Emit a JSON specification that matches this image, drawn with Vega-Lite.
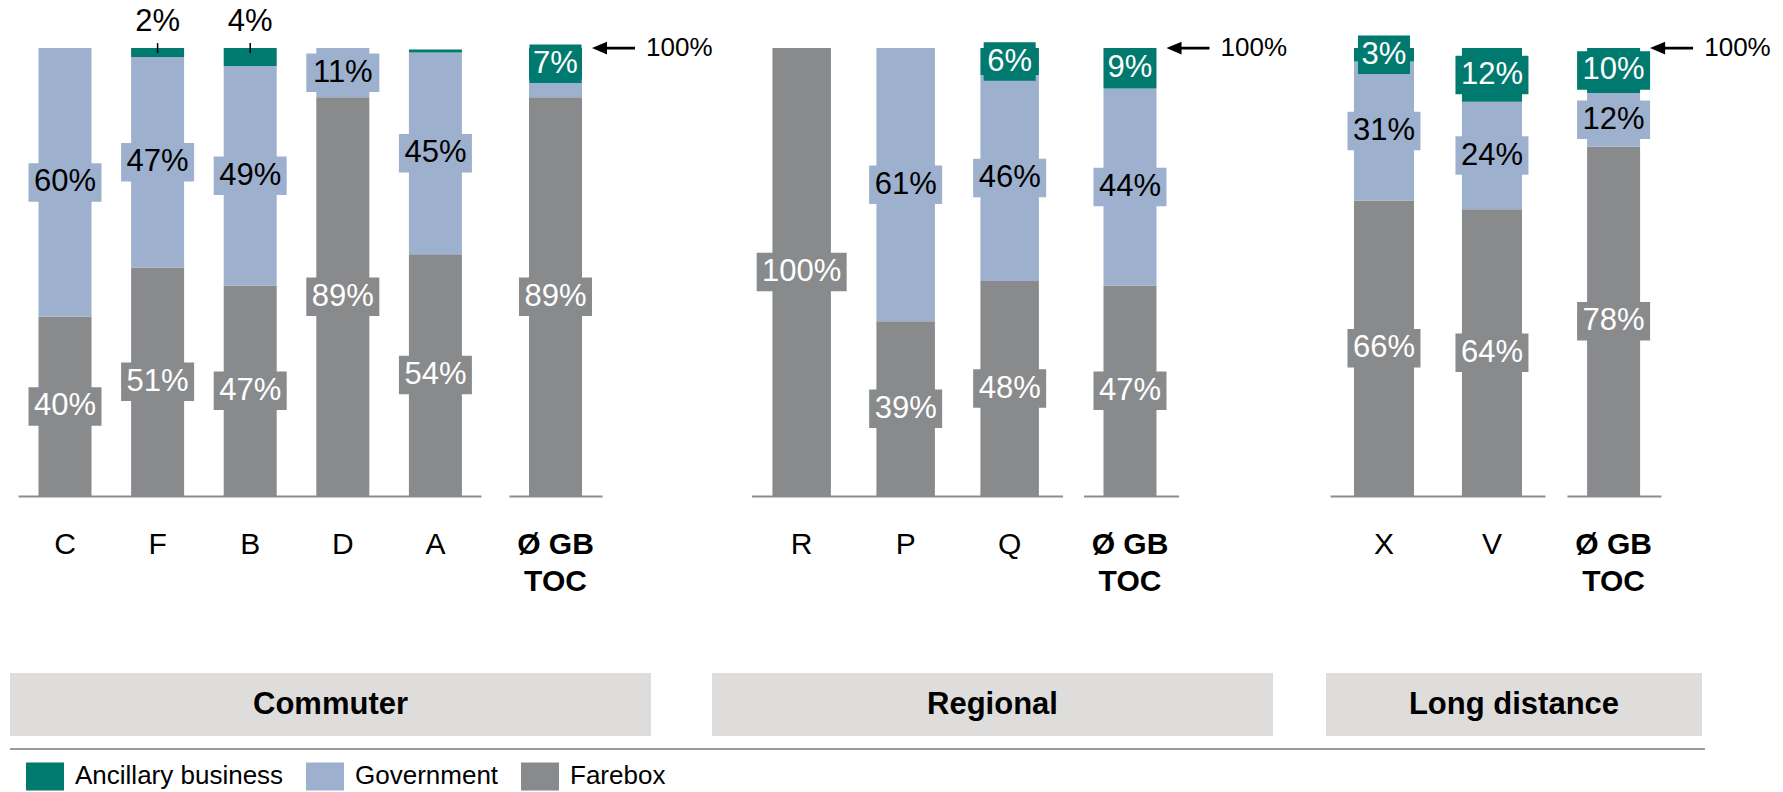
{
  "$schema": "https://vega.github.io/schema/vega-lite/v6.json",
  "padding": {"left": 9, "top": 0, "right": 0, "bottom": 0},
  "autosize": {"type": "pad"},
  "spacing": 77,
  "datasets": {
    "rev": [
      {"grp": "Commuter", "cat": "C", "src": "Farebox", "v": 0.40},
      {"grp": "Commuter", "cat": "C", "src": "Government", "v": 0.60},
      {"grp": "Commuter", "cat": "F", "src": "Farebox", "v": 0.51},
      {"grp": "Commuter", "cat": "F", "src": "Government", "v": 0.47},
      {"grp": "Commuter", "cat": "F", "src": "Ancillary business", "v": 0.02},
      {"grp": "Commuter", "cat": "B", "src": "Farebox", "v": 0.47},
      {"grp": "Commuter", "cat": "B", "src": "Government", "v": 0.49},
      {"grp": "Commuter", "cat": "B", "src": "Ancillary business", "v": 0.04},
      {"grp": "Commuter", "cat": "D", "src": "Farebox", "v": 0.89},
      {"grp": "Commuter", "cat": "D", "src": "Government", "v": 0.11},
      {"grp": "Commuter", "cat": "A", "src": "Farebox", "v": 0.54},
      {"grp": "Commuter", "cat": "A", "src": "Government", "v": 0.45},
      {"grp": "Commuter", "cat": "A", "src": "Ancillary business", "v": 0.007},
      {"grp": "Commuter", "cat": "Ø GB TOC", "src": "Farebox", "v": 0.89},
      {"grp": "Commuter", "cat": "Ø GB TOC", "src": "Government", "v": 0.04},
      {"grp": "Commuter", "cat": "Ø GB TOC", "src": "Ancillary business", "v": 0.07},
      {"grp": "Regional", "cat": "R", "src": "Farebox", "v": 1.00},
      {"grp": "Regional", "cat": "P", "src": "Farebox", "v": 0.39},
      {"grp": "Regional", "cat": "P", "src": "Government", "v": 0.61},
      {"grp": "Regional", "cat": "Q", "src": "Farebox", "v": 0.48},
      {"grp": "Regional", "cat": "Q", "src": "Government", "v": 0.46},
      {"grp": "Regional", "cat": "Q", "src": "Ancillary business", "v": 0.06},
      {"grp": "Regional", "cat": "Ø GB TOC", "src": "Farebox", "v": 0.47},
      {"grp": "Regional", "cat": "Ø GB TOC", "src": "Government", "v": 0.44},
      {"grp": "Regional", "cat": "Ø GB TOC", "src": "Ancillary business", "v": 0.09},
      {"grp": "Long distance", "cat": "X", "src": "Farebox", "v": 0.66},
      {"grp": "Long distance", "cat": "X", "src": "Government", "v": 0.31},
      {"grp": "Long distance", "cat": "X", "src": "Ancillary business", "v": 0.03},
      {"grp": "Long distance", "cat": "V", "src": "Farebox", "v": 0.64},
      {"grp": "Long distance", "cat": "V", "src": "Government", "v": 0.24},
      {"grp": "Long distance", "cat": "V", "src": "Ancillary business", "v": 0.12},
      {"grp": "Long distance", "cat": "Ø GB TOC", "src": "Farebox", "v": 0.78},
      {"grp": "Long distance", "cat": "Ø GB TOC", "src": "Government", "v": 0.12},
      {"grp": "Long distance", "cat": "Ø GB TOC", "src": "Ancillary business", "v": 0.10}
    ],
    "groups": [
      {"grp": "Commuter"},
      {"grp": "Regional"},
      {"grp": "Long distance"}
    ]
  },
  "vconcat": [
    {
      "hconcat": [
        {
          "hconcat": [
            {
              "width": 471, "height": 496,
              "data": {"name": "rev"},
              "transform": [
                {"filter": "datum.grp == 'Commuter' && datum.cat != 'Ø GB TOC'"},
                {"window": [{"op": "row_number", "as": "k"}], "groupby": ["cat"]}
              ],
              "encoding": {
                "x": {"field": "cat", "type": "nominal", "sort": null, "title": null,
                  "scale": {"paddingInner": 0.4277, "paddingOuter": 0.257, "align": 0.599},
                  "axis": {"labelAngle": 0, "labelFontSize": 30, "labelColor": "#000000", "labelPadding": 33, "ticks": false, "domainColor": "#8c8c8c", "domainWidth": 2, "domainDash": [0, 8, 463, 1000]}}
              },
              "layer": [
                {"mark": {"type": "bar"},
                 "encoding": {
                   "y": {"field": "v", "type": "quantitative", "stack": "zero", "scale": {"domain": [0, 1.1074], "nice": false}, "axis": null},
                   "color": {"field": "src", "type": "nominal", "scale": {"domain": ["Ancillary business", "Government", "Farebox"], "range": ["#00796e", "#9db0ce", "#898a8c"]},
                     "legend": {"title": null, "orient": "none", "legendX": 16, "legendY": 757, "direction": "horizontal", "symbolType": "M-1,-0.737H1V0.737H-1Z", "symbolSize": 1444, "symbolStrokeWidth": 0, "symbolOpacity": 1, "labelFontSize": 26, "labelFont": "Liberation Sans", "labelColor": "#000000", "labelOffset": 11, "columnPadding": 22, "padding": 0, "labelLimit": 400}},
                   "order": {"field": "k", "type": "quantitative"}}},
                {"mark": {"type": "tick", "thickness": 38.5, "orient": "horizontal"},
                 "encoding": {
                   "y": {"field": "v", "type": "quantitative", "stack": "zero", "bandPosition": 0.5, "scale": {"domain": [0, 1.1074], "nice": false}, "axis": null},
                   "color": {"field": "src", "type": "nominal", "scale": {"domain": ["Ancillary business", "Government", "Farebox"], "range": ["#00796e", "#9db0ce", "#898a8c"]}, "legend": null},
                   "order": {"field": "k", "type": "quantitative"},
                   "size": {"condition": [{"test": "datum.v < 0.095", "value": 52}, {"test": "datum.v > 0.995", "value": 90}], "value": 73},
                   "opacity": {"condition": {"test": "datum.src == 'Ancillary business'", "value": 0}, "value": 1}}},
                {"mark": {"type": "text", "fontSize": 31, "baseline": "middle", "align": "center"},
                 "encoding": {
                   "y": {"field": "v", "type": "quantitative", "stack": "zero", "bandPosition": 0.5, "scale": {"domain": [0, 1.1074], "nice": false}, "axis": null},
                   "detail": {"field": "src", "type": "nominal"},
                   "order": {"field": "k", "type": "quantitative"},
                   "text": {"field": "v", "type": "quantitative", "format": ".0%"},
                   "color": {"condition": {"test": "datum.src == 'Government'", "value": "#000000"}, "value": "#ffffff"},
                   "opacity": {"condition": {"test": "datum.src == 'Ancillary business'", "value": 0}, "value": 1}}},
                {"transform": [{"filter": "datum.src == 'Ancillary business' && datum.v >= 0.015"}],
                 "mark": {"type": "text", "fontSize": 31, "baseline": "middle", "align": "center", "dy": -26, "color": "#000000"},
                 "encoding": {
                   "y": {"datum": 1, "type": "quantitative", "scale": {"domain": [0, 1.1074], "nice": false}, "axis": null},
                   "text": {"field": "v", "type": "quantitative", "format": ".0%"}}},
                {"transform": [{"filter": "datum.src == 'Ancillary business' && datum.v >= 0.015"}],
                 "mark": {"type": "tick", "orient": "vertical", "thickness": 1.5, "size": 10, "color": "#000000", "opacity": 1},
                 "encoding": {
                   "y": {"datum": 1, "type": "quantitative", "scale": {"domain": [0, 1.1074], "nice": false}, "axis": null}}}
              ]
            },
            {
              "width": 93, "height": 496,
              "data": {"name": "rev"},
              "transform": [
                {"filter": "datum.grp == 'Commuter' && datum.cat == 'Ø GB TOC'"},
                {"window": [{"op": "row_number", "as": "k"}], "groupby": ["cat"]}
              ],
              "encoding": {
                "x": {"field": "cat", "type": "nominal", "sort": null, "title": null,
                  "scale": {"paddingInner": 0.4277, "paddingOuter": 0.216, "align": 0.5},
                  "axis": {"labelAngle": 0, "labelFontSize": 30, "labelFontWeight": "bold", "labelExpr": "['Ø GB', 'TOC']", "labelLineHeight": 37, "labelColor": "#000000", "labelPadding": 33, "ticks": false, "domainColor": "#8c8c8c", "domainWidth": 2}}
              },
              "layer": [
                {"mark": {"type": "bar"},
                 "encoding": {
                   "y": {"field": "v", "type": "quantitative", "stack": "zero", "scale": {"domain": [0, 1.1074], "nice": false}, "axis": null},
                   "color": {"field": "src", "type": "nominal", "scale": {"domain": ["Ancillary business", "Government", "Farebox"], "range": ["#00796e", "#9db0ce", "#898a8c"]},
                     "legend": {"title": null, "orient": "none", "legendX": 16, "legendY": 757, "direction": "horizontal", "symbolType": "M-1,-0.737H1V0.737H-1Z", "symbolSize": 1444, "symbolStrokeWidth": 0, "symbolOpacity": 1, "labelFontSize": 26, "labelFont": "Liberation Sans", "labelColor": "#000000", "labelOffset": 11, "columnPadding": 22, "padding": 0, "labelLimit": 400}},
                   "order": {"field": "k", "type": "quantitative"}}},
                {"mark": {"type": "tick", "thickness": 38.5, "orient": "horizontal"},
                 "encoding": {
                   "y": {"field": "v", "type": "quantitative", "stack": "zero", "bandPosition": 0.5, "scale": {"domain": [0, 1.1074], "nice": false}, "axis": null},
                   "color": {"field": "src", "type": "nominal", "scale": {"domain": ["Ancillary business", "Government", "Farebox"], "range": ["#00796e", "#9db0ce", "#898a8c"]}, "legend": null},
                   "order": {"field": "k", "type": "quantitative"},
                   "size": {"condition": [{"test": "datum.v < 0.095", "value": 52}, {"test": "datum.v > 0.995", "value": 90}], "value": 73},
                   "opacity": {"condition": {"test": "datum.src == 'Government'", "value": 0}, "value": 1}}},
                {"mark": {"type": "text", "fontSize": 31, "baseline": "middle", "align": "center"},
                 "encoding": {
                   "y": {"field": "v", "type": "quantitative", "stack": "zero", "bandPosition": 0.5, "scale": {"domain": [0, 1.1074], "nice": false}, "axis": null},
                   "detail": {"field": "src", "type": "nominal"},
                   "order": {"field": "k", "type": "quantitative"},
                   "text": {"field": "v", "type": "quantitative", "format": ".0%"},
                   "color": {"condition": {"test": "datum.src == 'Government'", "value": "#000000"}, "value": "#ffffff"},
                   "opacity": {"condition": {"test": "datum.src == 'Government'", "value": 0}, "value": 1}}},
                {"transform": [{"filter": "datum.src == 'Farebox'"}],
                 "mark": {"type": "point", "shape": "M-1,0L-0.3,-0.3L-0.3,-0.06L1,-0.06L1,0.06L-0.3,0.06L-0.3,0.3Z", "size": 1849, "filled": true, "color": "#000000", "opacity": 1, "strokeWidth": 0},
                 "encoding": {
                   "x": {"field": "cat", "type": "nominal", "sort": null, "bandPosition": 1.594, "title": null,
                     "axis": {"labelAngle": 0, "labelFontSize": 30, "labelFontWeight": "bold", "labelExpr": "['Ø GB', 'TOC']", "labelLineHeight": 37, "labelColor": "#000000", "labelPadding": 33, "ticks": false, "domainColor": "#8c8c8c", "domainWidth": 2}},
                   "y": {"datum": 1, "type": "quantitative", "scale": {"domain": [0, 1.1074], "nice": false}, "axis": null}}},
                {"transform": [{"filter": "datum.src == 'Farebox'"}],
                 "mark": {"type": "text", "fontSize": 26, "align": "left", "baseline": "middle", "color": "#000000"},
                 "encoding": {
                   "x": {"field": "cat", "type": "nominal", "sort": null, "bandPosition": 2.21, "title": null,
                     "axis": {"labelAngle": 0, "labelFontSize": 30, "labelFontWeight": "bold", "labelExpr": "['Ø GB', 'TOC']", "labelLineHeight": 37, "labelColor": "#000000", "labelPadding": 33, "ticks": false, "domainColor": "#8c8c8c", "domainWidth": 2}},
                   "y": {"datum": 1, "type": "quantitative", "scale": {"domain": [0, 1.1074], "nice": false}, "axis": null},
                   "text": {"value": "100%"}}}
              ]
            }
          ],
          "spacing": 28
        },
        {
          "hconcat": [
            {
              "hconcat": [
                {
                  "width": 311, "height": 496,
                  "data": {"name": "rev"},
                  "transform": [
                    {"filter": "datum.grp == 'Regional' && datum.cat != 'Ø GB TOC'"},
                    {"window": [{"op": "row_number", "as": "k"}], "groupby": ["cat"]}
                  ],
                  "encoding": {
                    "x": {"field": "cat", "type": "nominal", "sort": null, "title": null,
                      "scale": {"paddingInner": 0.4375, "paddingOuter": 0.214, "align": 0.47},
                      "axis": {"labelAngle": 0, "labelFontSize": 30, "labelColor": "#000000", "labelPadding": 33, "ticks": false, "domainColor": "#8c8c8c", "domainWidth": 2}}
                  },
                  "layer": [
                    {"mark": {"type": "bar"},
                     "encoding": {
                       "y": {"field": "v", "type": "quantitative", "stack": "zero", "scale": {"domain": [0, 1.1074], "nice": false}, "axis": null},
                       "color": {"field": "src", "type": "nominal", "scale": {"domain": ["Ancillary business", "Government", "Farebox"], "range": ["#00796e", "#9db0ce", "#898a8c"]},
                         "legend": {"title": null, "orient": "none", "legendX": 16, "legendY": 757, "direction": "horizontal", "symbolType": "M-1,-0.737H1V0.737H-1Z", "symbolSize": 1444, "symbolStrokeWidth": 0, "symbolOpacity": 1, "labelFontSize": 26, "labelFont": "Liberation Sans", "labelColor": "#000000", "labelOffset": 11, "columnPadding": 22, "padding": 0, "labelLimit": 400}},
                       "order": {"field": "k", "type": "quantitative"}}},
                    {"mark": {"type": "tick", "thickness": 38.5, "orient": "horizontal", "opacity": 1},
                     "encoding": {
                       "y": {"field": "v", "type": "quantitative", "stack": "zero", "bandPosition": 0.5, "scale": {"domain": [0, 1.1074], "nice": false}, "axis": null},
                       "color": {"field": "src", "type": "nominal", "scale": {"domain": ["Ancillary business", "Government", "Farebox"], "range": ["#00796e", "#9db0ce", "#898a8c"]}, "legend": null},
                       "order": {"field": "k", "type": "quantitative"},
                       "size": {"condition": [{"test": "datum.v < 0.095", "value": 52}, {"test": "datum.v > 0.995", "value": 90}], "value": 73}}},
                    {"mark": {"type": "text", "fontSize": 31, "baseline": "middle", "align": "center"},
                     "encoding": {
                       "y": {"field": "v", "type": "quantitative", "stack": "zero", "bandPosition": 0.5, "scale": {"domain": [0, 1.1074], "nice": false}, "axis": null},
                       "detail": {"field": "src", "type": "nominal"},
                       "order": {"field": "k", "type": "quantitative"},
                       "text": {"field": "v", "type": "quantitative", "format": ".0%"},
                       "color": {"condition": {"test": "datum.src == 'Government'", "value": "#000000"}, "value": "#ffffff"}}}
                  ]
                },
                {
                  "width": 95, "height": 496,
                  "data": {"name": "rev"},
                  "transform": [
                    {"filter": "datum.grp == 'Regional' && datum.cat == 'Ø GB TOC'"},
                    {"window": [{"op": "row_number", "as": "k"}], "groupby": ["cat"]}
                  ],
                  "encoding": {
                    "x": {"field": "cat", "type": "nominal", "sort": null, "title": null,
                      "scale": {"paddingInner": 0.4277, "paddingOuter": 0.2268, "align": 0.476},
                      "axis": {"labelAngle": 0, "labelFontSize": 30, "labelFontWeight": "bold", "labelExpr": "['Ø GB', 'TOC']", "labelLineHeight": 37, "labelColor": "#000000", "labelPadding": 33, "ticks": false, "domainColor": "#8c8c8c", "domainWidth": 2}}
                  },
                  "layer": [
                    {"mark": {"type": "bar"},
                     "encoding": {
                       "y": {"field": "v", "type": "quantitative", "stack": "zero", "scale": {"domain": [0, 1.1074], "nice": false}, "axis": null},
                       "color": {"field": "src", "type": "nominal", "scale": {"domain": ["Ancillary business", "Government", "Farebox"], "range": ["#00796e", "#9db0ce", "#898a8c"]},
                         "legend": {"title": null, "orient": "none", "legendX": 16, "legendY": 757, "direction": "horizontal", "symbolType": "M-1,-0.737H1V0.737H-1Z", "symbolSize": 1444, "symbolStrokeWidth": 0, "symbolOpacity": 1, "labelFontSize": 26, "labelFont": "Liberation Sans", "labelColor": "#000000", "labelOffset": 11, "columnPadding": 22, "padding": 0, "labelLimit": 400}},
                       "order": {"field": "k", "type": "quantitative"}}},
                    {"mark": {"type": "tick", "thickness": 38.5, "orient": "horizontal", "opacity": 1},
                     "encoding": {
                       "y": {"field": "v", "type": "quantitative", "stack": "zero", "bandPosition": 0.5, "scale": {"domain": [0, 1.1074], "nice": false}, "axis": null},
                       "color": {"field": "src", "type": "nominal", "scale": {"domain": ["Ancillary business", "Government", "Farebox"], "range": ["#00796e", "#9db0ce", "#898a8c"]}, "legend": null},
                       "order": {"field": "k", "type": "quantitative"},
                       "size": {"condition": [{"test": "datum.v < 0.095", "value": 52}, {"test": "datum.v > 0.995", "value": 90}], "value": 73}}},
                    {"mark": {"type": "text", "fontSize": 31, "baseline": "middle", "align": "center"},
                     "encoding": {
                       "y": {"field": "v", "type": "quantitative", "stack": "zero", "bandPosition": 0.5, "scale": {"domain": [0, 1.1074], "nice": false}, "axis": null},
                       "detail": {"field": "src", "type": "nominal"},
                       "order": {"field": "k", "type": "quantitative"},
                       "text": {"field": "v", "type": "quantitative", "format": ".0%"},
                       "color": {"condition": {"test": "datum.src == 'Government'", "value": "#000000"}, "value": "#ffffff"}}},
                    {"transform": [{"filter": "datum.src == 'Farebox'"}],
                     "mark": {"type": "point", "shape": "M-1,0L-0.3,-0.3L-0.3,-0.06L1,-0.06L1,0.06L-0.3,0.06L-0.3,0.3Z", "size": 1849, "filled": true, "color": "#000000", "opacity": 1, "strokeWidth": 0},
                     "encoding": {
                       "x": {"field": "cat", "type": "nominal", "sort": null, "bandPosition": 1.594, "title": null,
                         "axis": {"labelAngle": 0, "labelFontSize": 30, "labelFontWeight": "bold", "labelExpr": "['Ø GB', 'TOC']", "labelLineHeight": 37, "labelColor": "#000000", "labelPadding": 33, "ticks": false, "domainColor": "#8c8c8c", "domainWidth": 2}},
                       "y": {"datum": 1, "type": "quantitative", "scale": {"domain": [0, 1.1074], "nice": false}, "axis": null}}},
                    {"transform": [{"filter": "datum.src == 'Farebox'"}],
                     "mark": {"type": "text", "fontSize": 26, "align": "left", "baseline": "middle", "color": "#000000"},
                     "encoding": {
                       "x": {"field": "cat", "type": "nominal", "sort": null, "bandPosition": 2.21, "title": null,
                         "axis": {"labelAngle": 0, "labelFontSize": 30, "labelFontWeight": "bold", "labelExpr": "['Ø GB', 'TOC']", "labelLineHeight": 37, "labelColor": "#000000", "labelPadding": 33, "ticks": false, "domainColor": "#8c8c8c", "domainWidth": 2}},
                       "y": {"datum": 1, "type": "quantitative", "scale": {"domain": [0, 1.1074], "nice": false}, "axis": null},
                       "text": {"value": "100%"}}}
                  ]
                }
              ],
              "spacing": 21
            },
            {
              "hconcat": [
                {
                  "width": 215, "height": 496,
                  "data": {"name": "rev"},
                  "transform": [
                    {"filter": "datum.grp == 'Long distance' && datum.cat != 'Ø GB TOC'"},
                    {"window": [{"op": "row_number", "as": "k"}], "groupby": ["cat"]}
                  ],
                  "encoding": {
                    "x": {"field": "cat", "type": "nominal", "sort": null, "title": null,
                      "scale": {"paddingInner": 0.444, "paddingOuter": 0.2176, "align": 0.51},
                      "axis": {"labelAngle": 0, "labelFontSize": 30, "labelColor": "#000000", "labelPadding": 33, "ticks": false, "domainColor": "#8c8c8c", "domainWidth": 2}}
                  },
                  "layer": [
                    {"mark": {"type": "bar"},
                     "encoding": {
                       "y": {"field": "v", "type": "quantitative", "stack": "zero", "scale": {"domain": [0, 1.1074], "nice": false}, "axis": null},
                       "color": {"field": "src", "type": "nominal", "scale": {"domain": ["Ancillary business", "Government", "Farebox"], "range": ["#00796e", "#9db0ce", "#898a8c"]},
                         "legend": {"title": null, "orient": "none", "legendX": 16, "legendY": 757, "direction": "horizontal", "symbolType": "M-1,-0.737H1V0.737H-1Z", "symbolSize": 1444, "symbolStrokeWidth": 0, "symbolOpacity": 1, "labelFontSize": 26, "labelFont": "Liberation Sans", "labelColor": "#000000", "labelOffset": 11, "columnPadding": 22, "padding": 0, "labelLimit": 400}},
                       "order": {"field": "k", "type": "quantitative"}}},
                    {"mark": {"type": "tick", "thickness": 38.5, "orient": "horizontal", "opacity": 1},
                     "encoding": {
                       "y": {"field": "v", "type": "quantitative", "stack": "zero", "bandPosition": 0.5, "scale": {"domain": [0, 1.1074], "nice": false}, "axis": null},
                       "color": {"field": "src", "type": "nominal", "scale": {"domain": ["Ancillary business", "Government", "Farebox"], "range": ["#00796e", "#9db0ce", "#898a8c"]}, "legend": null},
                       "order": {"field": "k", "type": "quantitative"},
                       "size": {"condition": [{"test": "datum.v < 0.095", "value": 52}, {"test": "datum.v > 0.995", "value": 90}], "value": 73}}},
                    {"mark": {"type": "text", "fontSize": 31, "baseline": "middle", "align": "center"},
                     "encoding": {
                       "y": {"field": "v", "type": "quantitative", "stack": "zero", "bandPosition": 0.5, "scale": {"domain": [0, 1.1074], "nice": false}, "axis": null},
                       "detail": {"field": "src", "type": "nominal"},
                       "order": {"field": "k", "type": "quantitative"},
                       "text": {"field": "v", "type": "quantitative", "format": ".0%"},
                       "color": {"condition": {"test": "datum.src == 'Government'", "value": "#000000"}, "value": "#ffffff"}}}
                  ]
                },
                {
                  "width": 94, "height": 496,
                  "data": {"name": "rev"},
                  "transform": [
                    {"filter": "datum.grp == 'Long distance' && datum.cat == 'Ø GB TOC'"},
                    {"window": [{"op": "row_number", "as": "k"}], "groupby": ["cat"]}
                  ],
                  "encoding": {
                    "x": {"field": "cat", "type": "nominal", "sort": null, "title": null,
                      "scale": {"paddingInner": 0.4277, "paddingOuter": 0.2214, "align": 0.49},
                      "axis": {"labelAngle": 0, "labelFontSize": 30, "labelFontWeight": "bold", "labelExpr": "['Ø GB', 'TOC']", "labelLineHeight": 37, "labelColor": "#000000", "labelPadding": 33, "ticks": false, "domainColor": "#8c8c8c", "domainWidth": 2}}
                  },
                  "layer": [
                    {"mark": {"type": "bar"},
                     "encoding": {
                       "y": {"field": "v", "type": "quantitative", "stack": "zero", "scale": {"domain": [0, 1.1074], "nice": false}, "axis": null},
                       "color": {"field": "src", "type": "nominal", "scale": {"domain": ["Ancillary business", "Government", "Farebox"], "range": ["#00796e", "#9db0ce", "#898a8c"]},
                         "legend": {"title": null, "orient": "none", "legendX": 16, "legendY": 757, "direction": "horizontal", "symbolType": "M-1,-0.737H1V0.737H-1Z", "symbolSize": 1444, "symbolStrokeWidth": 0, "symbolOpacity": 1, "labelFontSize": 26, "labelFont": "Liberation Sans", "labelColor": "#000000", "labelOffset": 11, "columnPadding": 22, "padding": 0, "labelLimit": 400}},
                       "order": {"field": "k", "type": "quantitative"}}},
                    {"mark": {"type": "tick", "thickness": 38.5, "orient": "horizontal", "opacity": 1},
                     "encoding": {
                       "y": {"field": "v", "type": "quantitative", "stack": "zero", "bandPosition": 0.5, "scale": {"domain": [0, 1.1074], "nice": false}, "axis": null},
                       "color": {"field": "src", "type": "nominal", "scale": {"domain": ["Ancillary business", "Government", "Farebox"], "range": ["#00796e", "#9db0ce", "#898a8c"]}, "legend": null},
                       "order": {"field": "k", "type": "quantitative"},
                       "size": {"condition": [{"test": "datum.v < 0.095", "value": 52}, {"test": "datum.v > 0.995", "value": 90}], "value": 73}}},
                    {"mark": {"type": "text", "fontSize": 31, "baseline": "middle", "align": "center"},
                     "encoding": {
                       "y": {"field": "v", "type": "quantitative", "stack": "zero", "bandPosition": 0.5, "scale": {"domain": [0, 1.1074], "nice": false}, "axis": null},
                       "detail": {"field": "src", "type": "nominal"},
                       "order": {"field": "k", "type": "quantitative"},
                       "text": {"field": "v", "type": "quantitative", "format": ".0%"},
                       "color": {"condition": {"test": "datum.src == 'Government'", "value": "#000000"}, "value": "#ffffff"}}},
                    {"transform": [{"filter": "datum.src == 'Farebox'"}],
                     "mark": {"type": "point", "shape": "M-1,0L-0.3,-0.3L-0.3,-0.06L1,-0.06L1,0.06L-0.3,0.06L-0.3,0.3Z", "size": 1849, "filled": true, "color": "#000000", "opacity": 1, "strokeWidth": 0},
                     "encoding": {
                       "x": {"field": "cat", "type": "nominal", "sort": null, "bandPosition": 1.594, "title": null,
                         "axis": {"labelAngle": 0, "labelFontSize": 30, "labelFontWeight": "bold", "labelExpr": "['Ø GB', 'TOC']", "labelLineHeight": 37, "labelColor": "#000000", "labelPadding": 33, "ticks": false, "domainColor": "#8c8c8c", "domainWidth": 2}},
                       "y": {"datum": 1, "type": "quantitative", "scale": {"domain": [0, 1.1074], "nice": false}, "axis": null}}},
                    {"transform": [{"filter": "datum.src == 'Farebox'"}],
                     "mark": {"type": "text", "fontSize": 26, "align": "left", "baseline": "middle", "color": "#000000"},
                     "encoding": {
                       "x": {"field": "cat", "type": "nominal", "sort": null, "bandPosition": 2.21, "title": null,
                         "axis": {"labelAngle": 0, "labelFontSize": 30, "labelFontWeight": "bold", "labelExpr": "['Ø GB', 'TOC']", "labelLineHeight": 37, "labelColor": "#000000", "labelPadding": 33, "ticks": false, "domainColor": "#8c8c8c", "domainWidth": 2}},
                       "y": {"datum": 1, "type": "quantitative", "scale": {"domain": [0, 1.1074], "nice": false}, "axis": null},
                       "text": {"value": "100%"}}}
                  ]
                }
              ],
              "spacing": 22
            }
          ],
          "spacing": 42.5
        }
      ],
      "spacing": 38.5
    },
    {
      "vconcat": [
        {
          "hconcat": [
            {
              "width": 641, "height": 63,
              "view": {"fill": "#dedddb", "stroke": null},
              "data": {"name": "groups"},
              "transform": [{"filter": "datum.grp == 'Commuter'"}],
              "mark": {"type": "text", "fontSize": 31, "fontWeight": "bold", "color": "#000000", "baseline": "middle", "align": "center"},
              "encoding": {"text": {"field": "grp", "type": "nominal"}}
            },
            {
              "hconcat": [
                {
                  "width": 561, "height": 63,
                  "view": {"fill": "#dedddb", "stroke": null},
                  "data": {"name": "groups"},
                  "transform": [{"filter": "datum.grp == 'Regional'"}],
                  "mark": {"type": "text", "fontSize": 31, "fontWeight": "bold", "color": "#000000", "baseline": "middle", "align": "center"},
                  "encoding": {"text": {"field": "grp", "type": "nominal"}}
                },
                {
                  "width": 376, "height": 63,
                  "view": {"fill": "#dedddb", "stroke": null},
                  "data": {"name": "groups"},
                  "transform": [{"filter": "datum.grp == 'Long distance'"}],
                  "mark": {"type": "text", "fontSize": 31, "fontWeight": "bold", "color": "#000000", "baseline": "middle", "align": "center"},
                  "encoding": {"text": {"field": "grp", "type": "nominal"}}
                }
              ],
              "spacing": 53
            }
          ],
          "spacing": 61
        },
        {
          "width": 1695, "height": 1,
          "data": {"name": "groups"},
          "transform": [{"aggregate": [{"op": "count", "as": "n"}]}],
          "mark": {"type": "rule", "color": "#9c9c9c", "strokeWidth": 2},
          "encoding": {"y": {"datum": 0, "type": "quantitative", "scale": {"domain": [0, 1]}, "axis": null}}
        }
      ],
      "spacing": 12
    }
  ],
  "config": {
    "view": {"stroke": null},
    "font": "Liberation Sans",
    "text": {"font": "Liberation Sans"},
    "axis": {"labelFont": "Liberation Sans"}
  }
}
